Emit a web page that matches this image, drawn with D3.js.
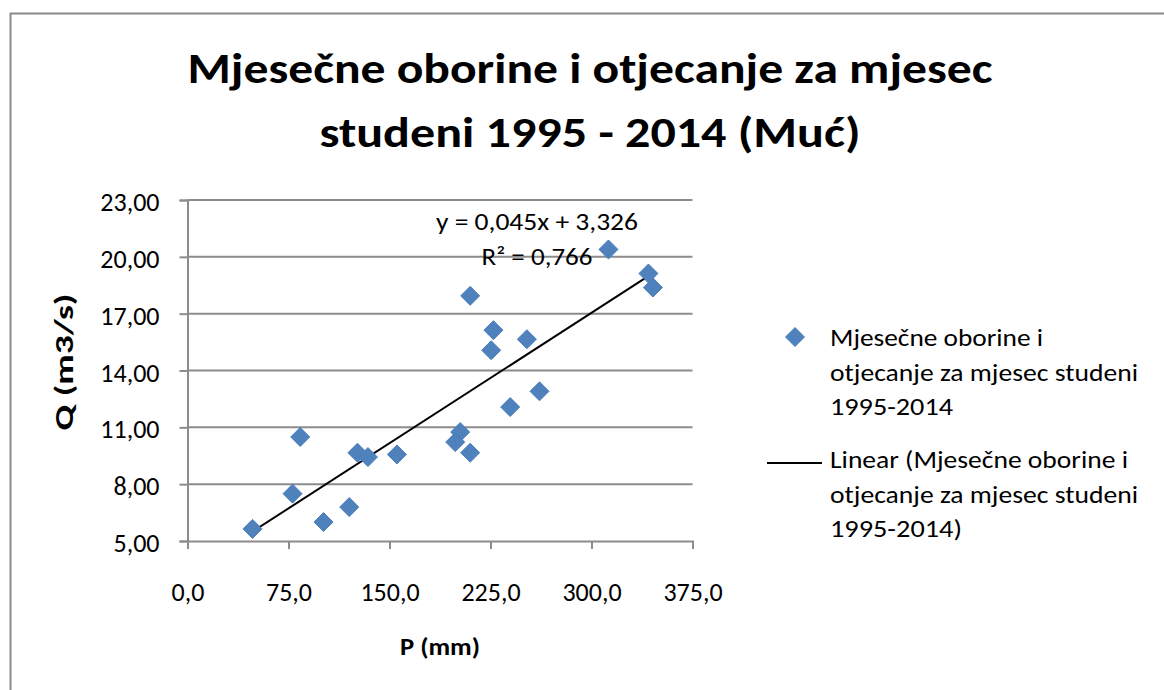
<!DOCTYPE html>
<html>
<head>
<meta charset="utf-8">
<script src="https://cdn.jsdelivr.net/npm/d3@7"></script>
<style>
  html, body { margin: 0; padding: 0; background: #fff; }
  svg { display: block; }
  text { font-family: Carlito, Calibri, Lato, "Open Sans", sans-serif; fill: #000; }
</style>
</head>
<body>
<svg id="chart"></svg>
<script>
// monthly precipitation P (mm) and runoff Q (m3/s), November 1995-2014
var precipitation = [312.6, 342.3, 345.6, 209.9, 227.2, 225.5, 252.0, 261.4, 239.6, 202.5,
                     198.8, 209.9, 155.5, 83.7, 126.2, 134.0, 78.0, 120.1, 101.0, 48.3];
var runoff = [20.39, 19.12, 18.38, 17.94, 16.13, 15.07, 15.65, 12.90, 12.07, 10.75,
              10.22, 9.66, 9.57, 10.49, 9.66, 9.43, 7.50, 6.79, 6.00, 5.64];

var xTicks = [0, 75, 150, 225, 300, 375];
var yTicks = [5, 8, 11, 14, 17, 20, 23];

// trendline label as printed on the chart
var equationLines = ['y = 0,045x + 3,326', 'R² = 0,766'];

var titleLines = ['Mjesečne oborine i otjecanje za mjesec', 'studeni 1995 - 2014 (Muć)'];
var legendSeries = ['Mjesečne oborine i', 'otjecanje za mjesec studeni', '1995-2014'];
var legendTrend = ['Linear (Mjesečne oborine i', 'otjecanje za mjesec studeni', '1995-2014)'];

var width = 1164, height = 690;

var locale = d3.formatLocale({decimal: ',', thousands: '.', grouping: [3], currency: ['', '']});
var fmtX = locale.format('.1f');
var fmtY = locale.format('.2f');

var svg = d3.select('#chart')
    .attr('width', width)
    .attr('height', height)
    .attr('viewBox', '0 0 ' + width + ' ' + height);

// squeeze or stretch a text to the width it has in the picture
function fit(sel, w){
    sel.attr('textLength', w).attr('lengthAdjust', 'spacingAndGlyphs');
    return sel;
}

// least squares line, like the one Excel adds
function linearFit(xs, ys){
    var mx = d3.mean(xs), my = d3.mean(ys);
    var sxy = d3.sum(xs, function(d, i){ return (d - mx) * (ys[i] - my); });
    var sxx = d3.sum(xs, function(d){ return (d - mx) * (d - mx); });
    var b = sxy / sxx;
    return {slope: b, intercept: my - b * mx};
}

// chart frame
svg.append('path')
    .attr('d', 'M10.5,' + height + 'V13.5H' + width)
    .style('fill', 'none')
    .style('stroke', '#8a8a8a')
    .style('stroke-width', 2);

var x = d3.scaleLinear().domain([0, 375]).range([187.5, 692.5]);
var y = d3.scaleLinear().domain([5, 23]).range([541, 200]);

// gridlines
svg.append('g')
    .selectAll('line')
    .data(yTicks.slice(1))
    .join('line')
    .attr('x1', x(0))
    .attr('x2', x(375))
    .attr('y1', function(d){ return y(d); })
    .attr('y2', function(d){ return y(d); })
    .style('stroke', '#8c8c8c')
    .style('stroke-width', 2);

// axes
var xAxis = svg.append('g')
    .attr('transform', 'translate(0,' + y(5) + ')')
    .call(d3.axisBottom(x).tickValues(xTicks).tickSize(8).tickPadding(0).tickFormat(fmtX));
var yAxis = svg.append('g')
    .attr('transform', 'translate(' + x(0) + ',0)')
    .call(d3.axisLeft(y).tickValues(yTicks).tickSize(8).tickPadding(0).tickFormat(fmtY));

[xAxis, yAxis].forEach(function(ax){
    ax.select('.domain').style('stroke', '#8c8c8c').style('stroke-width', 2);
    ax.selectAll('.tick line').style('stroke', '#8c8c8c').style('stroke-width', 2);
    ax.selectAll('.tick text')
        .style('font-family', 'Carlito, Calibri, Lato, "Open Sans", sans-serif')
        .style('font-size', '26px')
        .style('fill', '#000');
});
xAxis.selectAll('.tick text').attr('y', 0).attr('dy', null).attr('transform', 'translate(0,60)');
yAxis.selectAll('.tick text').attr('x', -28).attr('dy', null).attr('transform', 'translate(0,10.5)');

// trend line over the range of the data
var trend = linearFit(precipitation, runoff);
var xExt = d3.extent(precipitation);
svg.append('line')
    .attr('x1', x(xExt[0]))
    .attr('y1', y(trend.slope * xExt[0] + trend.intercept))
    .attr('x2', x(xExt[1]))
    .attr('y2', y(trend.slope * xExt[1] + trend.intercept))
    .style('stroke', '#000')
    .style('stroke-width', 2);

// diamond markers
var diamond = 'M0,-9.5L9.5,0L0,9.5L-9.5,0Z';
svg.append('g')
    .selectAll('path')
    .data(precipitation)
    .join('path')
    .attr('d', diamond)
    .attr('transform', function(d, i){ return 'translate(' + x(d) + ',' + y(runoff[i]) + ')'; })
    .style('fill', '#4F81BD')
    .style('stroke', '#4A7EBB')
    .style('stroke-width', 1);

// trendline label
var eqWidths = [202, 111];
svg.append('g')
    .style('font-size', '25px')
    .selectAll('text')
    .data(equationLines)
    .join('text')
    .attr('x', 537)
    .attr('y', function(d, i){ return 230 + i * 35; })
    .attr('text-anchor', 'middle')
    .text(function(d){ return d; })
    .each(function(d, i){ fit(d3.select(this), eqWidths[i]); });

// title
var titleWidths = [805, 541];
svg.append('g')
    .selectAll('text')
    .data(titleLines)
    .join('text')
    .attr('x', 590)
    .attr('y', function(d, i){ return 83 + i * 64; })
    .attr('text-anchor', 'middle')
    .style('font-size', '42px')
    .style('font-weight', 'bold')
    .text(function(d){ return d; })
    .each(function(d, i){ fit(d3.select(this), titleWidths[i]); });

// axis titles
fit(svg.append('text')
    .attr('x', 440).attr('y', 655)
    .attr('text-anchor', 'middle')
    .style('font-size', '25px')
    .style('font-weight', 'bold')
    .text('P (mm)'), 80);
fit(svg.append('text')
    .attr('transform', 'translate(73,362) rotate(-90)')
    .attr('text-anchor', 'middle')
    .style('font-size', '26px')
    .style('font-weight', 'bold')
    .text('Q (m3/s)'), 137);

// legend
var legend = svg.append('g').style('font-size', '25px');
legend.append('path')
    .attr('d', diamond)
    .attr('transform', 'translate(795,337)')
    .style('fill', '#4F81BD')
    .style('stroke', '#4A7EBB')
    .style('stroke-width', 1);
legend.append('line')
    .attr('x1', 767).attr('x2', 822)
    .attr('y1', 463).attr('y2', 463)
    .style('stroke', '#000')
    .style('stroke-width', 2);

var seriesWidths = [213, 308, 123];
var trendWidths = [298, 308, 132];
legend.append('g')
    .selectAll('text')
    .data(legendSeries)
    .join('text')
    .attr('x', 830)
    .attr('y', function(d, i){ return 346 + i * 34.5; })
    .text(function(d){ return d; })
    .each(function(d, i){ fit(d3.select(this), seriesWidths[i]); });
legend.append('g')
    .selectAll('text')
    .data(legendTrend)
    .join('text')
    .attr('x', 830)
    .attr('y', function(d, i){ return 468 + i * 34.5; })
    .text(function(d){ return d; })
    .each(function(d, i){ fit(d3.select(this), trendWidths[i]); });
</script>
</body>
</html>
